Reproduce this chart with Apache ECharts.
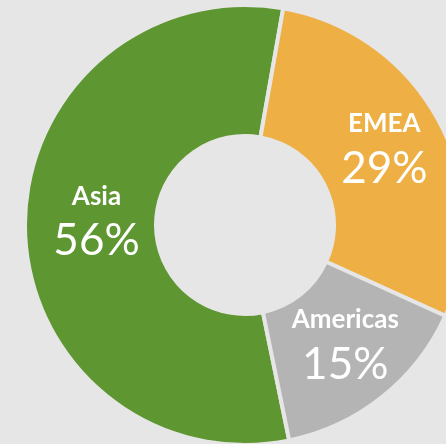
<!DOCTYPE html>
<html>
<head>
<meta charset="utf-8">
<script src="https://cdn.jsdelivr.net/npm/echarts@6/dist/echarts.min.js"></script>
<style>
  html, body { margin: 0; padding: 0; background: #e6e6e6; }
  #chart { width: 446px; height: 444px; }
</style>
</head>
<body>
<div id="chart"></div>
<script>
  // regions and their share (%)
  const regions = ['Asia', 'EMEA', 'Americas']
  const shares = [56, 29, 15]
  const colors = ['#5e9631', '#eeaf45', '#b4b4b4']
  // small nudges so labels sit where the original put them
  const labelOffsets = [[9, -3], [0, 0], [2, 0]]

  const chart = echarts.init(document.getElementById('chart'))

  let option = {
    backgroundColor: '#e6e6e6',
    animation: false,
    series: [
      {
        type: 'pie',
        center: [245, 225],
        radius: [89, 220],
        startAngle: -78.4,
        clockwise: true,
        avoidLabelOverlap: false,
        itemStyle: {
          borderColor: '#e6e6e6',
          borderWidth: 4
        },
        label: {
          show: true,
          position: 'inside',
          formatter: '{n|{b}}\n{p|{c}%}',
          rich: {
            n: {
              fontFamily: 'Lato',
              fontWeight: 'bold',
              fontSize: 26,
              color: '#fff',
              lineHeight: 34
            },
            p: {
              fontFamily: 'Lato',
              fontSize: 44,
              color: '#fff',
              lineHeight: 56
            }
          }
        },
        labelLine: { show: false },
        data: regions.map((name, i) => ({
          name: name,
          value: shares[i],
          itemStyle: { color: colors[i] },
          label: { offset: labelOffsets[i] }
        }))
      }
    ]
  }
  chart.setOption(option)
</script>
</body>
</html>
